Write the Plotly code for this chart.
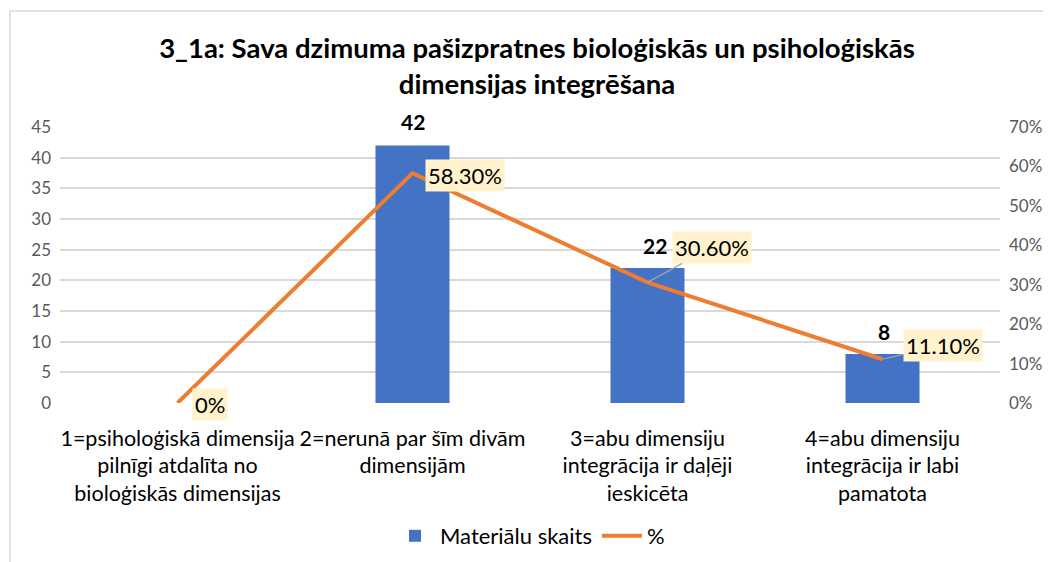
import plotly.graph_objects as go

categories = [
    "1=psiholoģiskā dimensija<br>pilnīgi atdalīta no<br>bioloģiskās dimensijas",
    "2=nerunā par šīm divām<br>dimensijām",
    "3=abu dimensiju<br>integrācija ir daļēji<br>ieskicēta",
    "4=abu dimensiju<br>integrācija ir labi<br>pamatota",
]
counts = [0, 42, 22, 8]
count_labels = ["", "42", "22", "8"]
percents = [0.0, 0.583, 0.306, 0.111]
percent_labels = ["0%", "58.30%", "30.60%", "11.10%"]
left_ticks = [0, 5, 10, 15, 20, 25, 30, 35, 40, 45]
right_ticks = [0, 0.1, 0.2, 0.3, 0.4, 0.5, 0.6, 0.7]

FONT = "Lato, Open Sans, Liberation Sans, Arial"
xpos = list(range(len(categories)))

# figure is placed at (8,8) in the page; work in figure pixels
W, H = 1043, 554
L, R, T, B = 52, 51, 119, 159
PW, PH = W - L - R, H - T - B

fig = go.Figure()
fig.add_trace(go.Bar(
    x=xpos, y=[v if v else None for v in counts], name="Materiālu skaits",
    marker=dict(color="#4472C4", line=dict(width=0)), width=0.315,
))
fig.add_trace(go.Scatter(
    x=xpos, y=percents, name="%", yaxis="y2", mode="lines",
    line=dict(color="#ED7D31", width=4),
))

annotations = []
bar_shifts = [(0, 0), (0, 24), (7, 23), (1, 22)]
for i, (v, t) in enumerate(zip(counts, count_labels)):
    if not t:
        continue
    annotations.append(dict(
        x=xpos[i], y=v, xref="x", yref="y", text="<b>%s</b>" % t,
        showarrow=False, xshift=bar_shifts[i][0], yshift=bar_shifts[i][1],
        font=dict(family=FONT, size=21, color="#000000"),
    ))
pct_offsets = [(32, -1, False), (52, -2, False), (64, -35, True), (60, -14, True)]
for i, (v, t) in enumerate(zip(percents, percent_labels)):
    ax, ay, arrow = pct_offsets[i]
    a = dict(
        x=xpos[i], y=v, xref="x", yref="y2", text=t,
        font=dict(family=FONT, size=22, color="#000000"),
        bgcolor="#FFF2CC", borderpad=2,
    )
    if arrow:
        a.update(showarrow=True, ax=ax, ay=ay, arrowhead=0,
                 arrowcolor="#A6A6A6", arrowwidth=1.2, standoff=0, startstandoff=0)
    else:
        a.update(showarrow=False, xshift=ax, yshift=ay)
    annotations.append(a)

fig.update_layout(
    width=W, height=H,
    paper_bgcolor="white", plot_bgcolor="white",
    margin=dict(l=L, r=R, t=T, b=B, autoexpand=False),
    title=dict(
        text="<b>3_1a: Sava dzimuma pašizpratnes bioloģiskās un psiholoģiskās<br>dimensijas integrēšana</b>",
        x=(537 - 8) / W, xanchor="center", xref="container",
        y=1 - 50 / H, yanchor="middle", yref="container",
        font=dict(family=FONT, size=27.5, color="#000000"),
    ),
    xaxis=dict(
        tickvals=xpos, ticktext=categories, range=[-0.5, 3.5],
        showgrid=False, zeroline=False, showline=False, ticks="",
        ticklabelstandoff=20, tickangle=0, automargin=False,
        tickfont=dict(family=FONT, size=21.5, color="#000000"),
    ),
    yaxis=dict(
        range=[0, 45], tickvals=left_ticks, showgrid=True, gridcolor="#D9D9D9",
        gridwidth=1.5, zeroline=False, showline=False, ticks="",
        ticklabelstandoff=8, automargin=False,
        tickfont=dict(family=FONT, size=17, color="#595959"),
    ),
    yaxis2=dict(
        range=[0, 0.7], tickvals=right_ticks, tickformat=".0%", overlaying="y",
        side="right", showgrid=False, zeroline=False, showline=False, ticks="",
        ticklabelstandoff=8, automargin=False,
        tickfont=dict(family=FONT, size=17, color="#595959"),
    ),
    legend=dict(
        orientation="h", x=0.5, xanchor="center", y=-(528 - (T + PH)) / PH,
        yanchor="middle",
        font=dict(family=FONT, size=22, color="#000000"),
        traceorder="normal", itemwidth=40,
    ),
    annotations=annotations,
    shapes=[dict(
        type="rect", xref="paper", yref="paper",
        x0=(2 - L) / PW, x1=(W + 20 - L) / PW,
        y0=-(H + 20 - T - PH) / PH, y1=(T + PH - 3) / PH,
        line=dict(color="#D9D9D9", width=1.5), fillcolor="rgba(0,0,0,0)", layer="below",
    )],
)

fig.write_html("out.html")
